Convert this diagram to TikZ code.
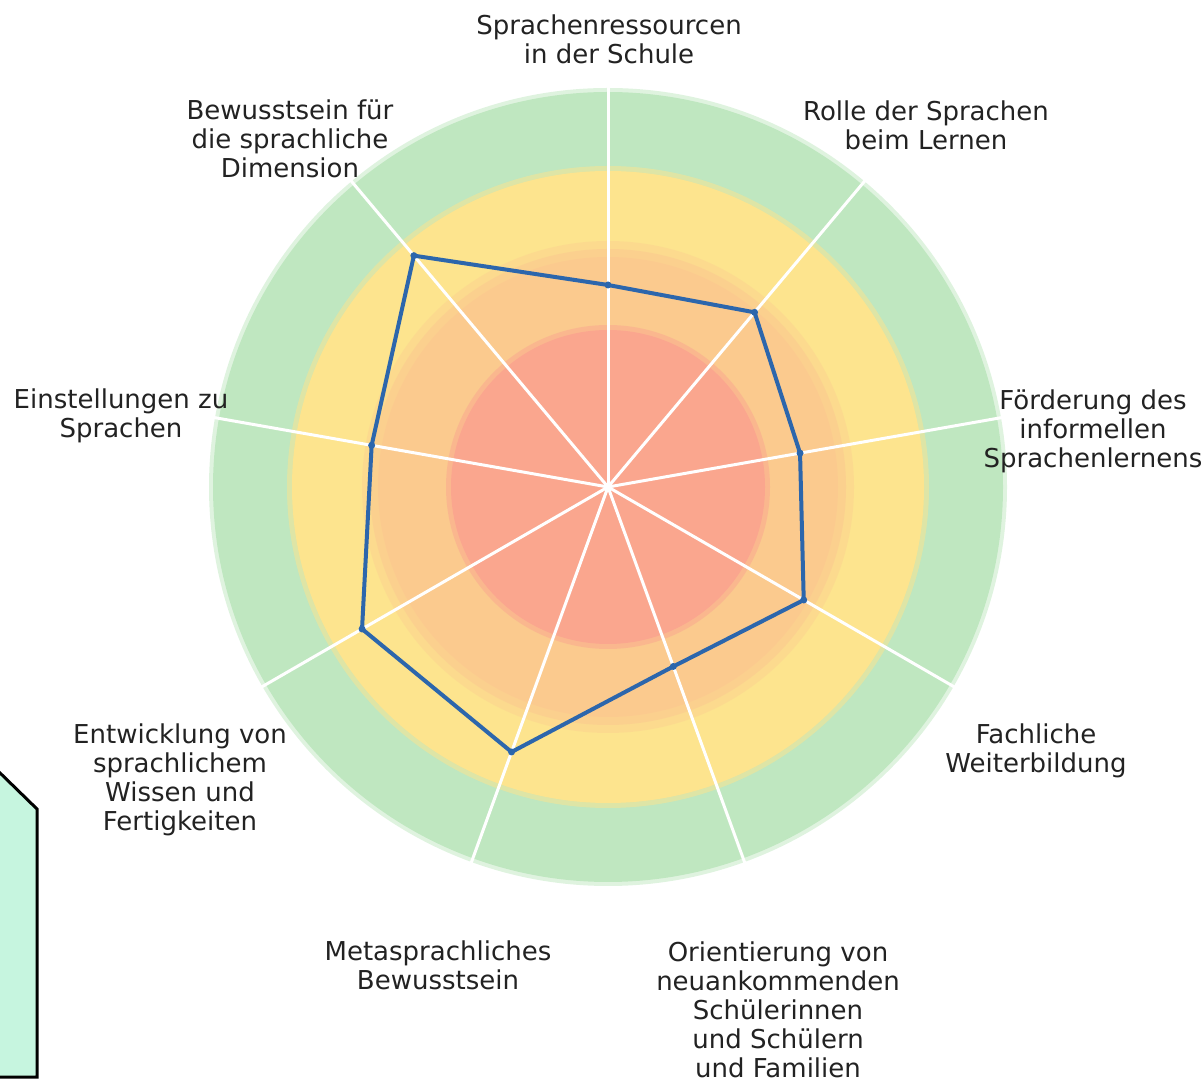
\documentclass[tikz,border=0pt]{standalone}
\usepackage{fontspec}
\setmainfont{DejaVu Sans}
\usetikzlibrary{positioning}

\definecolor{ringgreen}{RGB}{191,231,192}
\definecolor{ringyellow}{RGB}{253,228,142}
\definecolor{ringorange}{RGB}{251,202,142}
\definecolor{ringred}{RGB}{250,166,142}
\definecolor{scoreblue}{RGB}{44,102,172}
\definecolor{labeltext}{RGB}{34,34,34}
\definecolor{notefill}{RGB}{198,245,223}

\tikzset{
  lbl/.style={align=center, text=labeltext, inner sep=0pt,
    font=\fontsize{13}{14.5}\selectfont},
  spoke/.style={draw=white, line width=1.5pt},
  score/.style={draw=scoreblue, line width=2pt, line join=miter},
  dot/.style={circle, fill=scoreblue, inner sep=0pt, minimum size=3.5pt}
}

\begin{document}
\begin{tikzpicture}[x=0.5pt,y=0.5pt]
		\def\rg{395}
		\def\ry{316}
		\def\ro{230}
		\def\rr{157}
		\def\rs{400}
		\useasboundingbox (0,0) rectangle (1204,1081);

		% rings
		\begin{scope}[shift={(608,594)}]
		\coordinate (c) at (0,0);
		\fill[ringgreen, opacity=0.5] (c) circle[radius=\rg+4];
		\fill[ringgreen] (c) circle[radius=\rg];
		\fill[ringyellow, opacity=0.5] (c) circle[radius=\ry+5];
		\fill[ringyellow] (c) circle[radius=\ry];
		\fill[ringorange, opacity=0.35] (c) circle[radius=\ro+16];
		\fill[ringorange, opacity=0.6] (c) circle[radius=\ro+8];
		\fill[ringorange] (c) circle[radius=\ro];
		\fill[ringred, opacity=0.5] (c) circle[radius=\rr+5];
		\fill[ringred] (c) circle[radius=\rr];

		% spokes
		\coordinate (s1) at (90:\rs);
		\coordinate (s2) at (50:\rs);
		\coordinate (s3) at (10:\rs);
		\coordinate (s4) at (-30:\rs);
		\coordinate (s5) at (-70:\rs);
		\coordinate (s6) at (-110:\rs);
		\coordinate (s7) at (-150:\rs);
		\coordinate (s8) at (170:\rs);
		\coordinate (s9) at (130:\rs);
		\draw[spoke] (c) -- (s1);
		\draw[spoke] (c) -- (s2);
		\draw[spoke] (c) -- (s3);
		\draw[spoke] (c) -- (s4);
		\draw[spoke] (c) -- (s5);
		\draw[spoke] (c) -- (s6);
		\draw[spoke] (c) -- (s7);
		\draw[spoke] (c) -- (s8);
		\draw[spoke] (c) -- (s9);

		% scores
		\node[dot] (p1) at (90:202) {};
		\node[dot] (p2) at (50:228) {};
		\node[dot] (p3) at (10:195) {};
		\node[dot] (p4) at (-30:226) {};
		\node[dot] (p5) at (-70:191) {};
		\node[dot] (p6) at (-110:282) {};
		\node[dot] (p7) at (-150:284) {};
		\node[dot] (p8) at (170:240) {};
		\node[dot] (p9) at (130:302) {};
		\draw[score] (p1.center) -- (p2.center) -- (p3.center) -- (p4.center)
			-- (p5.center) -- (p6.center) -- (p7.center) -- (p8.center)
			-- (p9.center) -- cycle;
		\end{scope}

		% labels
		\node[lbl] (l1) at (609,1042) {Sprachenressourcen\\in der Schule};
		\node[lbl] (l2) at (926,956) {Rolle der Sprachen\\beim Lernen};
		\node[lbl] (l3) at (1093,650) {Förderung des\\informellen\\Sprachenlernens};
		\node[lbl] (l4) at (1036,330) {Fachliche\\Weiterbildung};
		\node[lbl] (l5) at (778,71) {Orientierung von\\neuankommenden\\Schülerinnen\\und Schülern\\und Familien};
		\node[lbl] (l6) at (438,116) {Metasprachliches\\Bewusstsein};
		\node[lbl] (l7) at (180,301) {Entwicklung von\\sprachlichem\\Wissen und\\Fertigkeiten};
		\node[lbl] (l8) at (121,665) {Einstellungen zu\\Sprachen};
		\node[lbl] (l9) at (290,942) {Bewusstsein für\\die sprachliche\\Dimension};

		% note box
		\fill[notefill] (-3,309) -- (37,272) -- (37,4) -- (-3,4) -- cycle;
		\draw[line width=1.5pt] (-3,311) -- (37,272) -- (37,4) -- (-3,4);
	\end{tikzpicture}
\end{document}
